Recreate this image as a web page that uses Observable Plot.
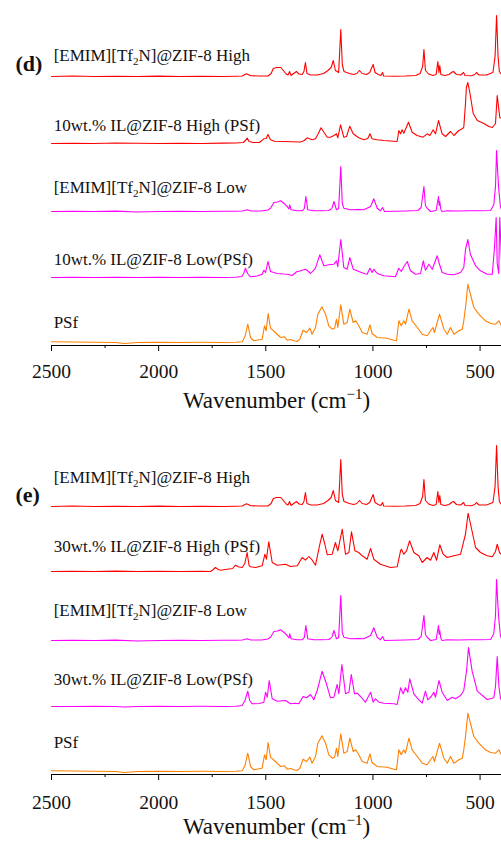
<!DOCTYPE html>
<html><head><meta charset="utf-8">
<script src="https://cdn.jsdelivr.net/npm/d3@7"></script>
<script src="https://cdn.jsdelivr.net/npm/@observablehq/plot@0.6"></script>
<style>
body{margin:0;background:#fff;}
#chart{width:501px;}
#chart svg{display:block;}
#chart svg text{font-family:"Liberation Serif","Times New Roman",serif !important;}
</style></head><body><div id="chart"></div>
<script>
// x-axis ticks (wavenumber, cm-1)
const wnMajorTicks = [2500, 2000, 1500, 1000, 500];
const wnMinorTicks = [2250, 1750, 1250, 750];

// spectra: [wavenumber, relative absorbance (a.u.)]
const emimHigh = [[2500,0],[2400,0.5],[2300,0],[2200,0.3],[2100,0],[2000,0.4],[1900,0],[1800,0.3],[1700,0],[1640,0.3],[1610,0.5],[1590,2.7],[1570,0.8],[1530,0.5],[1490,0.5],[1475,3],[1465,8],[1450,9],[1430,9],[1418,6],[1405,2.5],[1396,1.5],[1389,5],[1382,1],[1370,3],[1357,5],[1345,2.5],[1330,2],[1322,5],[1315,14],[1308,3],[1290,1.5],[1260,1.5],[1230,3],[1210,6],[1195,9],[1185,16],[1175,6],[1160,4],[1150,47],[1143,12],[1135,5],[1110,3],[1090,2],[1075,3],[1063,6],[1050,3],[1030,2],[1015,4],[999,12],[990,4],[975,2],[963,1],[955,4],[950,0.5],[900,0.3],[850,0.5],[800,1],[780,3],[768,10],[762,27],[755,6],[740,2.5],[720,1],[705,2],[697,15],[692,4],[688,11],[683,2],[665,1],[645,2],[630,4.5],[624,5],[610,2],[590,1.5],[577,4],[570,1],[540,0.8],[525,2],[517,4],[505,1.5],[470,1.5],[440,4],[430,20],[423,61],[416,20],[410,5],[400,2]];

const emimLow = [[2500,0],[2400,0.3],[2300,0],[2200,0.4],[2100,-0.5],[2000,0],[1900,0.3],[1800,0],[1700,0.3],[1640,0.3],[1610,0.5],[1587,1.8],[1570,0.5],[1520,0.5],[1490,1.5],[1478,3.3],[1462,9],[1445,9.5],[1431,10.7],[1416,8.3],[1400,5],[1392,2.5],[1388,6.7],[1382,1.7],[1354,0.7],[1330,0.7],[1320,3],[1313,15],[1304,1.7],[1276,0.7],[1240,0.7],[1206,1],[1198,2],[1190,4],[1182,10],[1170,1.7],[1160,3],[1150,45],[1143,8],[1136,3.3],[1105,1.7],[1070,2],[1042,1.7],[1011,5],[996,12.7],[980,3.3],[965,0.7],[955,4],[946,0],[900,0.3],[850,0.5],[790,1],[775,4],[762,25],[755,6],[747,3.3],[731,0],[705,1],[694,15],[691,6],[688,10],[683,2],[677,0],[653,0.7],[600,0.5],[550,0.7],[500,0.7],[451,1],[436,6.7],[428,25],[423,61],[418,40],[412,20],[405,5],[400,1.7]];

const psf = [[2500,0.7],[2400,0.5],[2300,0.3],[2200,0],[2160,-1],[2100,0],[2000,0.3],[1900,0],[1800,0.2],[1700,0],[1640,0.3],[1610,0.7],[1597,6],[1584,18.3],[1571,5],[1556,1.7],[1517,3.3],[1506,16.7],[1498,11.7],[1489,29],[1478,14.3],[1455,10],[1431,5],[1413,5.7],[1400,2.3],[1385,3],[1369,1.7],[1354,1],[1341,3.3],[1326,12.3],[1310,10],[1294,14.3],[1284,8.3],[1268,15],[1257,28.3],[1238,35.7],[1221,28.3],[1206,16.7],[1190,13.3],[1179,14.3],[1170,23.3],[1164,15],[1150,37.7],[1136,18.3],[1120,20],[1108,33.3],[1092,20],[1080,21.7],[1066,16.7],[1050,10],[1027,8.3],[1014,17.7],[1004,9],[980,5],[934,4.3],[902,2.3],[890,1.7],[879,21.7],[868,16.7],[856,21.7],[848,18.3],[832,33.3],[817,21.7],[793,15],[770,8.3],[747,6.7],[731,11.7],[720,15],[713,10],[689,28.3],[669,13.3],[653,8.3],[638,15],[622,8.3],[599,11.7],[583,13.3],[576,21.7],[568,35],[557,58.3],[545,48.3],[529,35],[506,28.3],[475,21.7],[451,19],[428,18.3],[412,21.7],[401,16.7]];

const il10High = [[2500,0],[2400,0.3],[2300,0],[2200,0.5],[2100,0.2],[2000,0],[1900,0.3],[1800,0],[1700,0.4],[1640,0.5],[1605,1],[1595,3],[1587,5.5],[1578,2],[1560,1],[1530,1],[1509,4.7],[1498,5],[1490,9],[1478,3.7],[1460,2.3],[1420,2],[1380,1.8],[1338,1.5],[1320,3],[1307,5.7],[1284,3.7],[1268,4.7],[1255,10],[1242,15.7],[1228,11],[1213,6.3],[1198,6.3],[1182,8],[1170,9.7],[1164,5.7],[1151,18.7],[1136,6.3],[1123,7],[1108,17.3],[1092,9.7],[1081,8],[1066,5.7],[1042,3.7],[1024,5],[1014,9.7],[1004,4.7],[980,3.7],[949,3],[887,2],[879,13],[871,9.7],[864,13.7],[856,10.3],[834,21.3],[817,11.3],[794,8],[766,6.3],[747,9.7],[734,8],[719,13.7],[708,9.7],[694,23],[677,9.7],[661,7],[638,12],[622,8],[599,13],[583,14.7],[576,16.3],[568,40],[564,56],[557,61],[547,50],[532,30],[513,23],[482,20],[459,17],[443,16],[428,20],[420,48],[408,26],[400,25]];

const il10Low = [[2500,0],[2400,0.3],[2300,0],[2200,0.3],[2100,0],[2000,0.3],[1900,0],[1800,0.3],[1700,0],[1640,0.3],[1612,1],[1603,4],[1595,9.3],[1585,4],[1571,0.7],[1540,1.5],[1517,3.3],[1509,7.3],[1501,5],[1490,16],[1478,6],[1447,4],[1420,3.5],[1400,3.3],[1377,2],[1354,6],[1340,6.5],[1330,7.3],[1315,8.3],[1304,6.7],[1291,4],[1268,9.3],[1248,22.7],[1229,11.7],[1206,12.7],[1182,13.3],[1170,16.7],[1164,10.7],[1150,38],[1136,10],[1120,8.3],[1108,20],[1092,8.3],[1074,6.7],[1042,4],[1027,3.3],[1014,9.3],[1004,5],[996,8.3],[980,4],[949,1.7],[895,0.7],[879,9.3],[868,6],[856,10.7],[840,16],[825,6.7],[801,3.3],[778,4],[765,16.7],[755,7.3],[739,13.3],[723,8.3],[700,21.7],[692,15],[677,5],[653,3.3],[622,2.7],[591,5],[576,10],[568,28],[557,38],[545,23],[521,11.7],[498,6.7],[467,3.3],[443,3.3],[433,29],[425,60],[420,14],[413,4],[408,60],[400,17]];

const il30High = [[2500,0],[2400,0.3],[2300,0],[2200,0.4],[2100,0],[2000,0.3],[1900,0],[1800,0.3],[1758,0],[1745,2],[1735,4],[1722,2],[1711,1.3],[1680,2.3],[1655,3],[1641,6.3],[1625,4.5],[1610,4],[1598,8],[1587,19],[1578,6],[1571,4.7],[1548,4],[1517,5.7],[1504,17.3],[1497,12.3],[1486,29.7],[1470,9],[1447,6.3],[1408,7.3],[1385,5],[1353,5.7],[1330,14],[1315,11.3],[1299,15],[1283,11.3],[1268,6.3],[1250,25],[1237,37.3],[1225,28],[1213,16.7],[1190,17.3],[1175,29],[1164,20.7],[1143,42.3],[1128,17.3],[1112,19],[1100,39.7],[1084,20.7],[1066,19],[1050,15.7],[1027,12.3],[1011,23],[996,12.3],[965,7.3],[918,4],[887,4.7],[871,20.7],[867,22.3],[856,17.3],[843,20.7],[829,30.7],[809,19],[786,15.7],[770,9],[747,14],[731,11.3],[716,19],[703,11.3],[688,26.7],[672,17.3],[654,14],[622,15.7],[591,17.3],[568,37.3],[556,58.3],[541,44],[521,24],[498,19],[467,15.7],[443,14.7],[428,20],[420,27.3],[409,19],[400,17]];

const il30Low = [[2500,0],[2400,0],[2300,0.3],[2200,0],[2160,-0.5],[2100,0],[2000,0.3],[1900,0],[1800,0.2],[1700,0],[1640,0.3],[1610,1],[1597,6],[1584,15.3],[1575,6],[1564,2.7],[1530,3],[1509,4.3],[1501,14.3],[1493,9.3],[1484,26],[1470,7.7],[1447,5.3],[1408,6],[1385,2.7],[1361,3.3],[1346,2.7],[1326,10],[1310,8.7],[1291,12],[1276,6.7],[1260,16],[1237,35.3],[1217,22.7],[1198,8.7],[1182,9.3],[1167,22],[1159,12.7],[1145,42],[1128,12.7],[1112,14.3],[1101,32],[1086,12.7],[1073,13.3],[1058,10],[1035,4.3],[1011,14.3],[999,4.3],[988,7.7],[972,4.3],[949,3.3],[902,2.7],[887,2],[871,18.7],[859,12.7],[848,18.7],[837,14.3],[828,27.7],[809,12.7],[786,6.7],[770,3.3],[755,15.3],[744,6.7],[728,10],[716,14.3],[708,9.3],[692,26],[677,14.3],[653,6],[630,9.3],[615,7.7],[591,11],[576,16],[563,36],[554,59],[537,35.3],[513,15.3],[467,7],[436,8.7],[428,20],[420,50],[412,20],[405,8.7],[400,6]];

// series names
const namesD = ["[EMIM][Tf2N]@ZIF-8 High", "10wt.% IL@ZIF-8 High (PSf)", "[EMIM][Tf2N]@ZIF-8 Low", "10wt.% IL@ZIF-8 Low(PSf)", "PSf"];
const namesE = ["[EMIM][Tf2N]@ZIF-8 High", "30wt.% IL@ZIF-8 High (PSf)", "[EMIM][Tf2N]@ZIF-8 Low", "30wt.% IL@ZIF-8 Low(PSf)", "PSf"];
const spectraD = [emimHigh, il10High, emimLow, il10Low, psf];
const spectraE = [emimHigh, il30High, emimLow, il30Low, psf];

// layout / style (not data)
const colors = ["#ff0000", "#ff0000", "#ff00ff", "#ff00ff", "#ff8000"];
const FONT = "'Liberation Serif', 'Times New Roman', serif";

function drawPanel({names, spectra, offsets, labelYs, tag, tagY, height, marginBottom, tickPadding, titleDy}) {
  const marks = [];
  spectra.forEach((pts, i) => {
    marks.push(Plot.line(pts, {x: d => d[0], y: d => d[1] + offsets[i], stroke: colors[i], strokeWidth: 1.1, strokeLinejoin: "round"}));
  });
  const labels = names.map((n, i) => ({text: n, wn: 2490, y: labelYs[i]}));
  marks.push(
    Plot.text(labels, {x: "wn", y: "y", text: "text", textAnchor: "start", fontSize: 17, fill: "#111"}),
    Plot.text([{t: tag, wn: 2668, y: tagY}], {x: "wn", y: "y", text: "t", textAnchor: "start", fontSize: 22, fontWeight: "bold", fill: "#111"}),
    Plot.ruleY([0], {stroke: "#000", strokeWidth: 1}),
    Plot.axisX(wnMajorTicks, {tickSize: 6, tickPadding, fontSize: 19.5, tickFormat: d => String(d), label: null, stroke: "#000", fill: "#111"}),
    Plot.axisX(wnMinorTicks, {tickSize: 3, tickFormat: () => "", label: null, stroke: "#000"}),
    Plot.text(["Wavenumber (cm-1)"], {frameAnchor: "bottom", dy: titleDy, fontSize: 23, fill: "#111"})
  );
  const svg = Plot.plot({
    width: 501, height, marginLeft: 51, marginRight: 0, marginTop: 0, marginBottom,
    style: {fontFamily: FONT, background: "#fff", color: "#000", overflow: "visible"},
    x: {domain: [2500, 400]},
    y: {domain: [0, height - marginBottom], axis: null},
    marks
  });
  // rich text: subscript / superscript, and serif face everywhere
  d3.select(svg).selectAll("text").attr("font-family", FONT).each(function() {
    const t = this.textContent;
    const el = d3.select(this);
    if (t.includes("Tf2N")) {
      const [a, b] = t.split("Tf2N");
      el.text(null);
      el.append("tspan").text(a + "Tf");
      el.append("tspan").attr("font-size", 11).attr("dy", 4).text("2");
      el.append("tspan").attr("dy", -4).text("N" + b);
    } else if (t === "Wavenumber (cm-1)") {
      el.text(null);
      el.append("tspan").text("Wavenumber (cm");
      el.append("tspan").attr("font-size", 15).attr("dy", -9).text("\u22121");
      el.append("tspan").attr("dy", 9).text(")");
    }
  });
  return svg;
}

const chart = document.getElementById("chart");
chart.appendChild(drawPanel({
  names: namesD, spectra: spectraD,
  offsets: [269, 202, 134, 68, 3],
  labelYs: [290, 220, 158, 86, 23],
  tag: "(d)", tagY: 282,
  height: 425, marginBottom: 80, tickPadding: 13, titleDy: 62
}));
chart.appendChild(drawPanel({
  names: namesE, spectra: spectraE,
  offsets: [268, 203, 134, 68, 3],
  labelYs: [297, 228, 164, 95, 32],
  tag: "(e)", tagY: 280,
  height: 421, marginBottom: 72, tickPadding: 15, titleDy: 59
}));
</script></body></html>
